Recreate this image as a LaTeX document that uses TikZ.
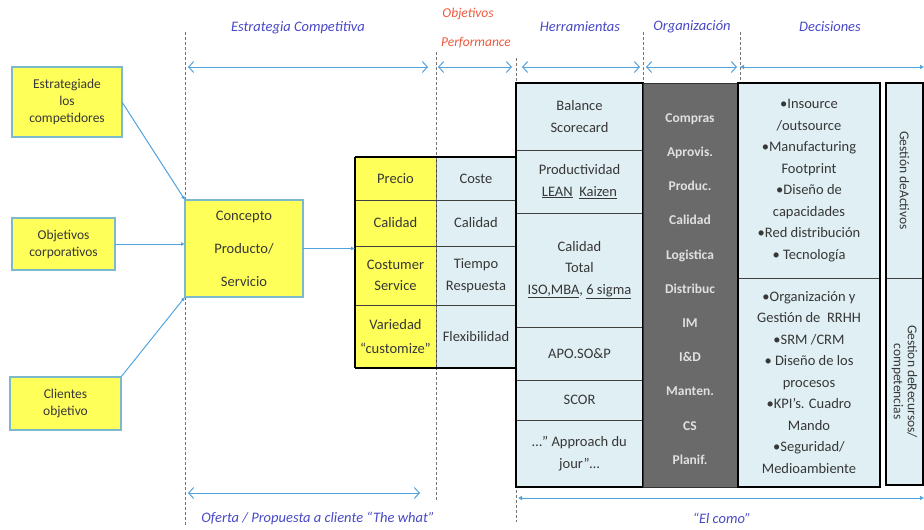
\documentclass[tikz,border=0pt]{standalone}
\usepackage{fontspec}
\setmainfont{Carlito}
\usetikzlibrary{arrows.meta}
\definecolor{ttl}{RGB}{72,72,200}
\definecolor{perf}{RGB}{238,88,62}
\definecolor{arr}{RGB}{82,162,222}
\definecolor{yel}{RGB}{255,255,90}
\definecolor{lbl}{RGB}{223,239,244}
\definecolor{dgr}{RGB}{106,106,106}
\definecolor{txt}{RGB}{55,55,55}
\definecolor{ybd}{RGB}{125,185,205}
\tikzset{
  cell/.style={draw=black!75, line width=1pt, rectangle, outer sep=0pt, inner sep=1pt, align=center, anchor=north west, text=txt},
  ycell/.style={cell, fill=yel},
  bcell/.style={cell, fill=lbl},
  lbox/.style={draw=ybd, line width=1.5pt, fill=yel, rectangle, outer sep=0pt, align=center, anchor=north west, text=txt},
  ttlt/.style={font=\fontsize{14.5}{16}\selectfont\itshape, text=ttl},
  guide/.style={draw=black!55, densely dashed, line width=0.7pt},
  barb/.style={draw=arr, line width=1pt, {Straight Barb[length=5pt,width=11pt]}-{Straight Barb[length=5pt,width=11pt]}},
  conn/.style={draw=arr, line width=1pt, -{Latex[length=4pt,width=4pt]}},
  thick box/.style={draw=black, line width=2.6pt}
}
\newcommand\fa{\fontsize{14.5}{21.5}\selectfont}
\newcommand\fb{\fontsize{13.5}{17}\selectfont}
\begin{document}
\begin{tikzpicture}[x=1pt,y=-1pt]
\useasboundingbox (0,0) rectangle (924,530);
% guide lines
\draw[guide] (185,32) -- (185,525);
\draw[guide] (436,52) -- (436,500);
\draw[guide] (516,58) -- (516,90);
\draw[guide] (516,480) -- (516,522);
\draw[guide] (643,32) -- (643,86);
\draw[guide] (740,32) -- (740,86);
% titles
\node[ttlt] (t1) at (298,28) {Estrategia Competitiva};
\node[ttlt, text=perf, font=\fontsize{13.5}{16}\selectfont\itshape] (t2a) at (468,14) {Objetivos};
\node[ttlt, text=perf, font=\fontsize{13.5}{16}\selectfont\itshape] (t2b) at (476,43) {Performance};
\node[ttlt] (t3) at (580,27) {Herramientas};
\node[ttlt] (t4) at (692,27) {Organización};
\node[ttlt] (t5) at (830,27) {Decisiones};
% top arrows
\coordinate (a1l) at (188,67); \coordinate (a1r) at (428,67);
\coordinate (a2l) at (438,67); \coordinate (a2r) at (512,67);
\coordinate (a3l) at (522,67); \coordinate (a3r) at (640,67);
\coordinate (a4l) at (646,67); \coordinate (a4r) at (737,67);
\coordinate (a5l) at (740,67); \coordinate (a5r) at (924,67);
\draw[barb] (a1l) -- (a1r);
\draw[barb] (a2l) -- (a2r);
\draw[barb] (a3l) -- (a3r);
\draw[barb] (a4l) -- (a4r);
\draw[draw=arr, line width=1pt, {Latex[length=4pt,width=5pt]}-{Latex[length=4pt,width=5pt]}] (a5l) -- (a5r);
% left boxes
\node[lbox, minimum width=110pt, minimum height=70pt, font=\fb] (estr) at (12,67) {Estrategiade\\los\\competidores};
\node[lbox, minimum width=103pt, minimum height=52pt, font=\fb] (obj) at (12,218) {Objetivos\\corporativos};
\node[lbox, minimum width=111pt, minimum height=53pt, font=\fb] (cli) at (10,377) {Clientes\\objetivo};
\node[lbox, minimum width=118pt, minimum height=97pt, font=\fontsize{14.5}{33}\selectfont] (conc) at (185,200) {Concepto\\Producto/\\Servicio};
% yellow / blue table
\node[ycell, minimum width=81pt, minimum height=43pt, font=\fa] (y1) at (355,157) {Precio};
\node[ycell, minimum width=81pt, minimum height=46pt, font=\fa] (y2) at (355,200) {Calidad};
\node[ycell, minimum width=81pt, minimum height=59pt, font=\fa] (y3) at (355,246) {Costumer\\Service};
\node[ycell, minimum width=81pt, minimum height=63pt, font=\fontsize{14.5}{24}\selectfont] (y4) at (355,305) {Variedad\\“customize”};
\node[bcell, minimum width=80pt, minimum height=43pt, font=\fa] (b1) at (436,157) {Coste};
\node[bcell, minimum width=80pt, minimum height=46pt, font=\fa] (b2) at (436,200) {Calidad};
\node[bcell, minimum width=80pt, minimum height=59pt, font=\fa] (b3) at (436,246) {Tiempo\\Respuesta};
\node[bcell, minimum width=80pt, minimum height=63pt, font=\fa] (b4) at (436,305) {Flexibilidad};
\draw[guide] (436,157) -- (436,368);
\draw[thick box] (y1.north west) -- (b1.north east);
\draw[thick box] (y4.south west) -- (b4.south east);
\draw[thick box] (y1.north west) -- (y4.south west);
% Herramientas
\node[bcell, minimum width=127pt, minimum height=67pt, font=\fa] (h1) at (516,83) {Balance\\Scorecard};
\node[bcell, minimum width=127pt, minimum height=63pt, font=\fa] (h2) at (516,150) {Productividad\\\underline{LEAN}\ \ \underline{Kaizen}};
\node[bcell, minimum width=127pt, minimum height=114pt, font=\fa] (h3) at (516,213) {Calidad\\Total\\\underline{ISO,MBA}, \underline{6 sigma}};
\node[bcell, minimum width=127pt, minimum height=53pt, font=\fa] (h4) at (516,327) {APO.SO\&P};
\node[bcell, minimum width=127pt, minimum height=40pt, font=\fa] (h5) at (516,380) {SCOR};
\node[bcell, minimum width=127pt, minimum height=67pt, font=\fa] (h6) at (516,420) {…” Approach du\\jour”…};
\draw[thick box] (h1.north west) rectangle (h6.south east);
% Organizacion
\node[draw=black!80, line width=1pt, fill=dgr, rectangle, outer sep=0pt, anchor=north west, minimum width=95pt, minimum height=404pt] (org) at (643,83) {};
\node[text=white!88!black, align=center, font=\bfseries\fontsize{13.5}{34.2}\selectfont] (orgt) at (690,289) {Compras\\Aprovis.\\Produc.\\Calidad\\Logistica\\Distribuc\\IM\\I\&D\\Manten.\\CS\\Planif.};
% Decisiones
\node[bcell, minimum width=142pt, minimum height=195pt, font=\fa] (d1) at (738,83) {•Insource\\/outsource\\•Manufacturing\\Footprint\\•Diseño de\\capacidades\\•Red distribución\\• Tecnología};
\node[bcell, minimum width=142pt, minimum height=209pt, font=\fa] (d2) at (738,278) {•Organización y\\Gestión de\ \ RRHH\\•SRM /CRM\\• Diseño de los\\procesos\\•KPI’s. Cuadro\\Mando\\•Seguridad/\\Medioambiente};
\draw[thick box] (d1.north west) rectangle (d2.south east);
% Right column
\node[bcell, minimum width=37pt, minimum height=195pt] (r1) at (886,83) {};
\node[bcell, minimum width=37pt, minimum height=207pt] (r2) at (886,278) {};
\node[rotate=-90, text=txt, font=\fontsize{13.5}{15}\selectfont] (r1t) at (r1.center) {Gestión deActivos};
\node[rotate=-90, text=txt, align=center, font=\fontsize{13.5}{14}\selectfont] (r2t) at (r2.center) {Gestion deRecursos/\\competencias};
\draw[thick box] (r1.north west) rectangle (r2.south east);
% connectors
\draw[conn] (estr.east) -- (conc.north west);
\draw[conn] (obj.east) -- (obj.east -| conc.west);
\draw[conn] (cli.north east) -- (conc.south west);
\draw[conn] (conc.east) -- (conc.east -| y3.west);
% bottom arrows
\coordinate (b1l) at (188,493); \coordinate (b1r) at (420,493);
\coordinate (b2l) at (518,498); \coordinate (b2r) at (924,498);
\draw[barb] (b1l) -- (b1r);
\draw[draw=arr, line width=1pt, {Latex[length=4pt,width=5pt]}-{Latex[length=4pt,width=5pt]}] (b2l) -- (b2r);
\node[ttlt] (bt1) at (318,518) {Oferta / Propuesta a cliente “The what”};
\node[ttlt] (bt2) at (722,518) {“El como”};
\end{tikzpicture}
\end{document}
